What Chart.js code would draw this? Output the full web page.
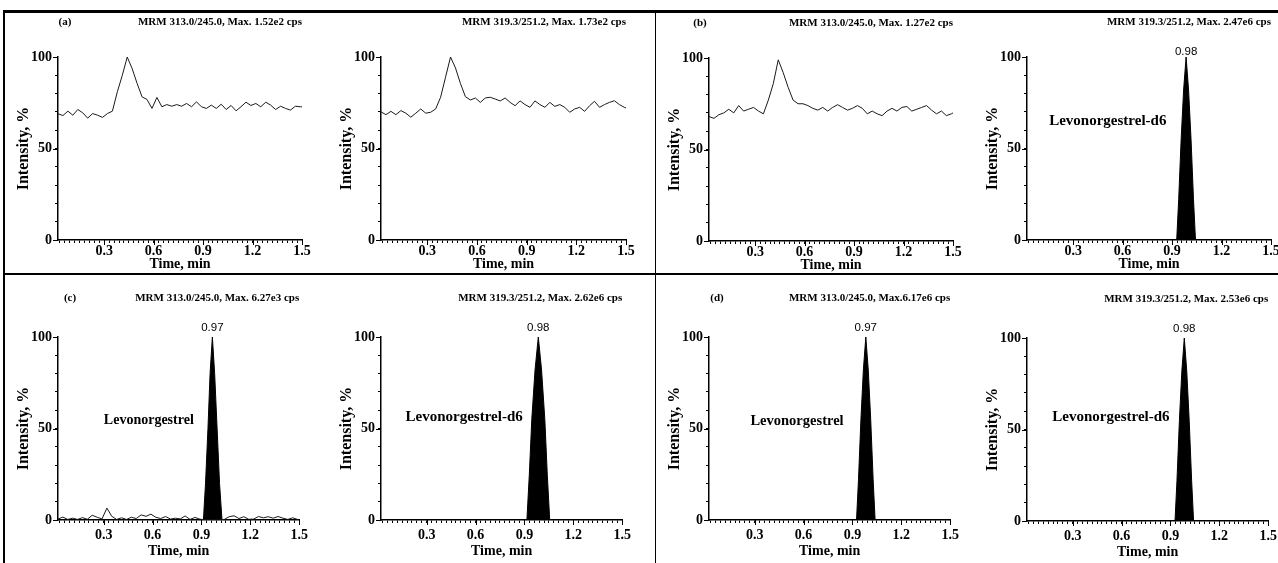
<!DOCTYPE html>
<html>
<head>
<meta charset="utf-8">
<script src="https://cdn.jsdelivr.net/npm/chart.js@4.4.1/dist/chart.umd.min.js"></script>
<style>
  html, body { margin: 0; padding: 0; background: #fff; }
  body { width: 1278px; height: 563px; position: relative; overflow: hidden; }
  .rule { position: absolute; background: #000; }
  canvas { position: absolute; }
</style>
</head>
<body>
<div id="charts"></div>
<div class="rule" style="left:4px;top:10px;width:1274px;height:3px"></div>
<div class="rule" style="left:3px;top:10px;width:2px;height:553px"></div>
<div class="rule" style="left:655px;top:10px;width:1px;height:553px"></div>
<div class="rule" style="left:4px;top:273px;width:1274px;height:1.5px"></div>

<script>
// sampling times (min) shared by the noisy traces
const timeGrid = [0.02, 0.05, 0.08, 0.11, 0.14, 0.17, 0.20, 0.23, 0.26, 0.29,
  0.32, 0.35, 0.38, 0.41, 0.44, 0.47, 0.50, 0.53, 0.56, 0.59,
  0.62, 0.65, 0.68, 0.71, 0.74, 0.77, 0.80, 0.83, 0.86, 0.89,
  0.92, 0.95, 0.98, 1.01, 1.04, 1.07, 1.10, 1.13, 1.16, 1.19,
  1.22, 1.25, 1.28, 1.31, 1.34, 1.37, 1.40, 1.43, 1.46, 1.49, 1.50];

// (a) blank: analyte and IS channels
const blankLng = [69, 68, 70.4, 68.2, 71.3, 69.5, 66.6, 69.1, 68.2, 67,
  69.1, 70.4, 81, 90, 100, 93.6, 85.5, 78.2, 76.8, 71.9,
  77.9, 72.8, 74, 73.1, 74, 73.1, 74.6, 72.8, 75.5, 72.8,
  71.9, 73.7, 71.9, 74.2, 71.3, 73.5, 70.6, 72.8, 75.3, 73.5,
  74.6, 72.8, 75.3, 73.7, 71.3, 73.1, 71.9, 71, 73.1, 72.8, 72.8];
const blankIs = [70, 68.5, 70.3, 68.5, 70.7, 69.3, 67.1, 69.3, 71.6, 69.3,
  69.8, 71.6, 78, 89, 100, 94, 85.5, 78.3, 76.5, 77.6,
  75.2, 77.6, 78, 77, 76, 77.6, 75.2, 73.4, 76, 74,
  72.5, 76, 74, 72.5, 75.2, 73, 74, 72.5, 69.8, 71.6,
  72.5, 70.3, 73.4, 75.8, 72.5, 74, 75.2, 76.1, 74, 72.5, 72.2];

// (b) blank with IS: analyte channel
const zeroLng = [68, 67, 69, 70, 72, 70, 74, 71, 72, 73,
  71, 69.5, 77, 86, 99, 92, 84, 77, 75, 75,
  74, 72.5, 71.5, 73, 71, 73, 74.5, 73, 71.5, 72.5,
  74, 72.5, 69.5, 71, 69.5, 68.5, 71, 72.5, 71, 73,
  73.5, 71, 72, 73, 74, 71.5, 69.5, 71, 68.5, 69.5, 70];

// (c) LLOQ: analyte baseline noise
const lloqNoise = [0.5, 1.6, 0.3, 1.0, 0.3, 1.3, 0.4, 2.6, 1.5, 0.6,
  6.5, 2.0, 0.3, 1.2, 0.3, 1.5, 0.8, 2.8, 2.0, 3.2,
  1.5, 0.8, 1.9, 0.5, 1.0, 0.6, 2.2, 0.3, 1.4, 0.5,
  0, 0, 0, 0, 0.3, 1.8, 2.3, 0.8, 1.8, 0.4,
  0.5, 1.9, 1.2, 1.8, 1.0, 1.9, 1.0, 0.3, 1.2, 0.3, 0.3];

// peak profiles (time, %)
const peakTimeB2 = [0.02, 0.928, 0.94, 0.955, 0.97, 0.985, 1.00, 1.015, 1.03, 1.042, 1.50];
const peakIntB2 = [0, 0, 22, 55, 82, 100, 82, 55, 22, 0, 0];
const peakTimeC1 = [0.912, 0.925, 0.94, 0.953, 0.967, 0.981, 0.996, 1.011, 1.026];
const peakIntC1 = [0, 20, 50, 80, 100, 80, 50, 20, 0];
const peakTimeC2 = [0.02, 0.915, 0.93, 0.945, 0.965, 0.985, 1.005, 1.025, 1.04, 1.055, 1.50];
const peakIntC2 = [0, 0, 25, 55, 82, 100, 82, 55, 25, 0, 0];
const peakTimeD1 = [0.02, 0.925, 0.937, 0.952, 0.967, 0.982, 0.997, 1.012, 1.027, 1.039, 1.50];
const peakIntD1 = [0, 0, 22, 55, 82, 100, 82, 55, 22, 0, 0];
const peakTimeD2 = [0.02, 0.928, 0.94, 0.955, 0.97, 0.985, 1.00, 1.015, 1.03, 1.042, 1.50];
const peakIntD2 = [0, 0, 22, 55, 82, 100, 82, 55, 22, 0, 0];

const majorX = [0.3, 0.6, 0.9, 1.2, 1.5];
const majorY = [0, 50, 100];

const serif = '"Liberation Serif", "Times New Roman", serif';

function pts(t, v) { return t.map((x, i) => ({x, y: v[i]})); }
const trace = (t, v) => ({data: pts(t, v), borderColor: '#1a1a1a', borderWidth: 1, pointRadius: 0, fill: false});
const peak = (t, v) => ({data: pts(t, v), borderColor: '#000', backgroundColor: '#000', borderWidth: 1, pointRadius: 0, fill: 'origin'});

const panels = [
  {L: 58, T: 57, R: 302, B: 240, row: 0, panel: '(a)', panelX: 65,
   title: 'MRM 313.0/245.0, Max. 1.52e2 cps', sets: [trace(timeGrid, blankLng)]},
  {L: 381, T: 57, R: 626, B: 240, row: 0,
   title: 'MRM 319.3/251.2, Max. 1.73e2 cps', sets: [trace(timeGrid, blankIs)]},
  {L: 709, T: 58, R: 953, B: 241, row: 0, panel: '(b)', panelX: 700,
   title: 'MRM 313.0/245.0, Max. 1.27e2 cps', sets: [trace(timeGrid, zeroLng)]},
  {L: 1027, T: 57, R: 1271, B: 240, row: 0,
   title: 'MRM 319.3/251.2, Max. 2.47e6 cps', sets: [peak(peakTimeB2, peakIntB2)],
   apex: {t: 0.985, text: '0.98'}, name: {text: 'Levonorgestrel-d6', t: 0.51, v: 65, size: 15}},
  {L: 58, T: 337, R: 302, B: 520, row: 1, panel: '(c)', panelX: 70,
   title: 'MRM 313.0/245.0, Max. 6.27e3 cps', sets: [trace(timeGrid, lloqNoise), peak(peakTimeC1, peakIntC1)],
   apex: {t: 0.967, text: '0.97'}, name: {text: 'Levonorgestrel', t: 0.577, v: 54.5, size: 14}},
  {L: 381, T: 337, R: 625, B: 520, row: 1,
   title: 'MRM 319.3/251.2, Max. 2.62e6 cps', sets: [peak(peakTimeC2, peakIntC2)],
   apex: {t: 0.985, text: '0.98'}, name: {text: 'Levonorgestrel-d6', t: 0.53, v: 56, size: 15}},
  {L: 709, T: 337, R: 953, B: 520, row: 1, panel: '(d)', panelX: 717,
   title: 'MRM 313.0/245.0, Max.6.17e6 cps', sets: [peak(peakTimeD1, peakIntD1)],
   apex: {t: 0.982, text: '0.97'}, name: {text: 'Levonorgestrel', t: 0.56, v: 54, size: 14.5}},
  {L: 1027, T: 338, R: 1271, B: 521, row: 1,
   title: 'MRM 319.3/251.2, Max. 2.53e6 cps', sets: [peak(peakTimeD2, peakIntD2)],
   apex: {t: 0.985, text: '0.98'}, name: {text: 'Levonorgestrel-d6', t: 0.535, v: 56.5, size: 15}}
];

// extra marks: longer major ticks, titles, peak labels, compound names
const decor = {
  id: 'decor',
  afterDraw(chart, args, o) {
    const {ctx, chartArea: a, scales: {x, y}} = chart;
    ctx.save();
    ctx.strokeStyle = '#000';
    ctx.lineWidth = 1;
    ctx.beginPath();
    majorX.forEach(v => { const px = Math.round(x.getPixelForValue(v)) + 0.5; ctx.moveTo(px, a.bottom); ctx.lineTo(px, a.bottom + 5); });
    majorY.forEach(v => { const py = Math.round(y.getPixelForValue(v)) + 0.5; ctx.moveTo(a.left, py); ctx.lineTo(a.left - 5, py); });
    ctx.stroke();

    ctx.fillStyle = '#000';
    ctx.textBaseline = 'middle';
    ctx.font = 'bold 11px ' + serif;
    ctx.textAlign = 'right';
    ctx.fillText(o.title, a.right, a.top - o.titleGap);
    if (o.panel) {
      ctx.textAlign = 'center';
      ctx.fillText(o.panel, o.panelX, a.top - o.titleGap);
    }
    if (o.apex) {
      ctx.font = '11.5px "Liberation Sans", Arial, sans-serif';
      ctx.textAlign = 'center';
      ctx.fillText(o.apex.text, x.getPixelForValue(o.apex.t), a.top - o.apexGap);
    }
    if (o.name) {
      ctx.font = 'bold ' + o.name.size + 'px ' + serif;
      ctx.textAlign = 'center';
      ctx.fillText(o.name.text, x.getPixelForValue(o.name.t), y.getPixelForValue(o.name.v));
    }
    ctx.restore();
  }
};

const PAD_L = 52, PAD_T = 52, PAD_R = 10, PAD_B = 40;
const holder = document.getElementById('charts');

panels.forEach(p => {
  const cv = document.createElement('canvas');
  const left = p.L - PAD_L, top = p.T - PAD_T;
  const w = p.R - p.L + PAD_L + PAD_R, h = p.B - p.T + PAD_T + PAD_B;
  cv.width = w; cv.height = h;
  cv.style.left = left + 'px'; cv.style.top = top + 'px';
  cv.style.width = w + 'px'; cv.style.height = h + 'px';
  holder.appendChild(cv);

  const titleGap = p.row === 0 ? 35 : 39;
  const apexGap = p.row === 0 ? 5 : 9;
  const xTitleOff = p.row === 0 ? 24.5 : 33;
  const tickPad = p.row === 0 ? 0 : 4;

  new Chart(cv, {
    type: 'line',
    data: {datasets: p.sets},
    options: {
      responsive: false,
      devicePixelRatio: 1,
      animation: false,
      events: [],
      layout: {padding: {left: 0, top: PAD_T, right: PAD_R, bottom: 0}},
      plugins: {
        legend: {display: false},
        tooltip: {enabled: false},
        decor: {title: p.title, titleGap, panel: p.panel, panelX: p.panelX - left,
                apex: p.apex, apexGap, name: p.name}
      },
      scales: {
        x: {
          type: 'linear', min: 0.02, max: 1.5,
          afterBuildTicks: s => {
            const t = [];
            for (let k = 1; k <= 50; k++) t.push({value: +(k * 0.03).toFixed(2)});
            s.ticks = t;
          },
          afterFit: s => { s.height = PAD_B; },
          grid: {drawOnChartArea: false, tickLength: 3, color: '#000'},
          border: {color: '#000', width: 1.5},
          ticks: {
            autoSkip: false, maxRotation: 0, padding: tickPad, color: '#000',
            font: {family: serif, size: 14, weight: 'bold'},
            callback: v => majorX.some(m => Math.abs(m - v) < 1e-6) ? v.toFixed(1) : ''
          },
          title: {display: true, text: 'Time, min', color: '#000',
                  font: {family: serif, size: 14, weight: 'bold'},
                  padding: {top: 0, bottom: Math.max(0, PAD_B - xTitleOff - 8.4)}}
        },
        y: {
          min: 0, max: 100,
          afterBuildTicks: s => {
            const t = [];
            for (let k = 0; k <= 10; k++) t.push({value: k * 10});
            s.ticks = t;
          },
          afterFit: s => { s.width = PAD_L; },
          grid: {drawOnChartArea: false, tickLength: 3, color: '#000'},
          border: {color: '#000', width: 1.5},
          ticks: {
            autoSkip: false, padding: 3, color: '#000',
            font: {family: serif, size: 14, weight: 'bold'},
            callback: v => majorY.includes(v) ? String(v) : ''
          },
          title: {display: true, text: 'Intensity, %', color: '#000',
                  font: {family: serif, size: 16, weight: 'bold'},
                  padding: {top: 8, bottom: 0}}
        }
      }
    },
    plugins: [decor]
  });
});
</script>
</body>
</html>
